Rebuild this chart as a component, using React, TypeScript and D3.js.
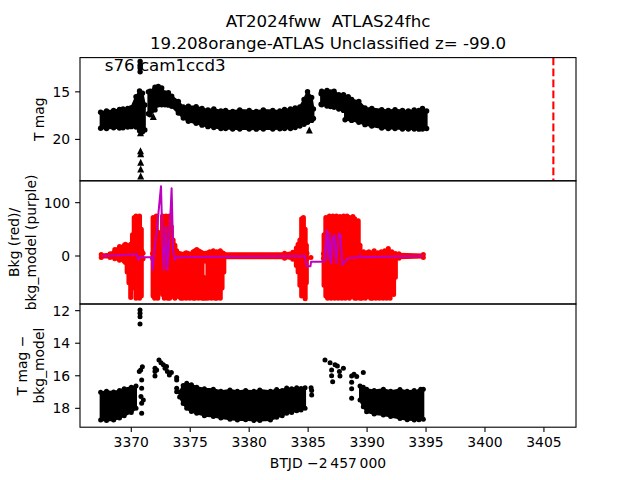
import React from "react";
import * as d3 from "d3";

// ---------- data ----------
const xTickVals = [3370, 3375, 3380, 3385, 3390, 3395, 3400, 3405];
const topTickVals = [15, 20];
const midTickVals = [0, 100];
const botTickVals = [12, 14, 16, 18];

// top panel: envelope of the dense T mag band (null = gap)
const topBandT = [3367.4, 3367.9, 3368.5, 3369.0, 3369.3, 3369.7, 3370.0, 3370.4, 3370.7, 3370.95, 3371.15, null,
  3371.45, 3371.59, 3372.01, 3372.29, 3372.58, 3372.86, 3373.15, 3373.43, 3373.99, 3374.41, 3374.84, 3375.5, 3376.0, 3376.5, 3377.0, 3377.6, 3378.0, 3378.6, 3379.2, 3380.0, 3380.6, 3381.2, 3382.0, 3382.6, 3383.0, 3383.5, 3383.9, 3384.3, 3384.65, 3384.95, 3385.3, 3385.45, null,
  3386.1, 3386.15, 3386.6, 3386.9, 3387.2, 3387.6, 3388.0, 3388.4, null,
  3388.13, 3388.69, 3389.3, 3389.82, 3390.4, 3391.24, 3391.8, 3392.37, 3393.0, 3393.5, 3394.0, 3394.4, 3394.7, 3395.05];
const topBandHi = [17.15, 17.0, 16.95, 16.85, 16.8, 16.75, 16.67, 15.51, 14.91, 15.15, 16.38, null,
  15.0, 14.94, 14.52, 14.42, 14.6, 15.12, 15.1, 15.47, 16.0, 16.6, 16.52, 16.56, 16.75, 16.9, 16.8, 17.0, 16.95, 17.05, 16.9, 16.95, 17.05, 16.9, 16.95, 17.0, 16.85, 16.8, 16.7, 16.6, 15.8, 14.98, 15.6, 16.8, null,
  15.2, 14.94, 14.85, 15.0, 14.94, 15.3, 15.3, 15.5, null,
  16.0, 15.8, 16.0, 16.7, 16.75, 16.87, 16.95, 16.87, 16.95, 17.0, 16.9, 16.95, 16.75, 17.0];
const topBandLo = [18.83, 18.85, 18.77, 18.8, 18.77, 18.7, 18.66, 18.7, 19.1, 19.2, 19.0, null,
  17.3, 17.4, 16.9, 16.35, 16.35, 16.35, 16.4, 16.52, 17.22, 17.75, 18.1, 18.3, 18.5, 18.66, 18.75, 18.85, 18.85, 18.9, 18.9, 18.9, 18.92, 18.9, 18.9, 18.88, 18.85, 18.85, 18.75, 18.6, 18.4, 18.2, 18.0, 17.8, null,
  16.3, 16.35, 16.5, 16.55, 16.62, 16.8, 16.95, 17.04, null,
  17.93, 18.0, 18.2, 18.45, 18.6, 18.8, 18.85, 18.85, 18.9, 18.9, 18.9, 18.92, 18.9, 18.85];
// top panel: upper limits (triangles)
const topLimT = [3370.78, 3370.78, 3370.8, 3370.8, 3370.8, 3370.8, 3371.87, 3385.1];
const topLimM = [19.3, 21.2, 21.5, 22.4, 23.1, 23.85, 17.6, 19.0];
// top panel: isolated bright points
const topPtT = [3370.75, 3370.75, 3370.75, 3370.75];
const topPtM = [11.8, 12.2, 12.5, 12.9];
const discoveryT = 3405.8;

// middle panel: quiet background level (red band near zero)
const bkgBandT = [3367.45, 3368.2, 3368.6, 3369.0, 3369.4, 3370.0, 3370.9, 3371.0, null,
  3371.8, 3374.0, 3377.8, 3383.0, 3383.7, 3384.2, 3384.9, null,
  3386.3, 3392.4, 3392.7, 3394.77];
const bkgBandHi = [3, 4, 12, 18, 20, 20, 10, 5, null,
  4, 4, 5, 5, 7, 15, 5, null,
  4, 4, 4, 3];
const bkgBandLo = [-3, -3, -5, -8, -10, -10, -6, -5, null,
  -4, -4, -4, -4, -6, -15, -5, null,
  -4, -4, -4, -3];
// middle panel: scatter columns of the background flux
const bkgColT = [3369.5, 3369.65, 3369.8, 3369.95, 3370.1, 3370.25, 3370.4, 3370.55, 3370.7, 3370.85,
  3371.85, 3371.98, 3372.12, 3372.25, 3372.5, 3372.65, 3372.8, 3372.95, 3373.1, 3373.25, 3373.4, 3373.55, 3373.7, 3373.85, 3374.0,
  3374.2, 3374.35, 3374.5, 3374.65, 3374.8, 3374.95, 3375.1, 3375.25, 3375.4, 3375.55, 3375.7, 3375.85, 3376.0, 3376.15, 3376.3, 3376.3, 3376.5, 3376.65, 3376.8, 3376.95, 3377.1, 3377.25, 3377.4, 3377.55, 3377.7, 3377.85,
  3384.0, 3384.15, 3384.3, 3384.45, 3384.6, 3384.75, 3384.85,
  3386.35, 3386.5, 3386.65, 3386.8, 3386.95, 3387.1, 3387.25, 3387.4, 3387.55, 3387.7, 3387.85, 3388.0, 3388.15, 3388.3, 3388.5, 3388.65, 3388.8, 3388.95, 3389.1, 3389.25, 3389.4,
  3389.55, 3389.7, 3389.85, 3390.0, 3390.15, 3390.3, 3390.45, 3390.6, 3390.75, 3390.9, 3391.05, 3391.2, 3391.35, 3391.5, 3391.65, 3391.8, 3391.95, 3392.1, 3392.25, 3392.4];
const bkgColHi = [22, 20, 18, 22, 40, 72, 75, 68, 75, 50,
  72, 60, 75, 45, 30, 75, 60, 75, 40, 75, 55, 30, 20, 10, 5,
  4, 2, 4, 6, 5, 3, 4, 8, 10, 12, 10, 8, 6, -40, 5, -50, 6, 8, 4, 10, 6, 8, 4, 10, 6, 4,
  15, 22, 30, 70, 72, 50, 20,
  40, 72, 60, 75, 50, 75, 65, 75, 40, 74, 60, 75, 55, 75, 72, 50, 74, 70, 40, 66, 20,
  6, 8, 4, 6, 8, 4, 6, 10, 4, 6, 4, 8, 6, 10, 4, 14, 6, 8, 4, 4];
const bkgColLo = [-12, -30, -50, -78, -60, -40, -79, -72, -79, -75,
  -75, -79, -55, -79, -60, -72, -79, -50, -79, -79, -76, -72, -79, -65, -76,
  -79, -79, -60, -79, -76, -79, -50, -79, -79, -76, -79, -70, -79, -79, -10, -79, -79, -76, -79, -60, -79, -79, -74, -79, -60, -30,
  -18, -30, -55, -75, -60, -80, -50,
  -55, -75, -79, -72, -79, -60, -79, -76, -79, -72, -79, -50, -79, -76, -79, -76, -60, -79, -79, -75, -79,
  -79, -60, -79, -76, -50, -79, -79, -72, -79, -40, -79, -76, -79, -60, -79, -76, -79, -50, -72, -40];
const bkgPtT = [3385.24];
const bkgPtV = [-3];
// middle panel: background model (purple)
const modelT = [3367.49, 3368.5, 3369.5, 3370.46, 3370.6, 3370.7, 3371.73, 3371.81, 3371.95, 3372.15, 3372.52, 3372.65, 3372.77, 3372.94, 3373.06, 3373.2, 3373.42, 3373.55, 3373.71, 3373.85, 3378.0, 3384.73, 3384.87, 3385.2, 3385.25, 3386.37, 3386.57, 3386.7, 3386.83, 3386.95, 3387.1, 3387.24, 3387.38, 3387.6, 3387.75, 3387.9, 3388.1, 3388.4, 3389.2, 3389.4, 3389.5, 3394.77];
const modelV = [0, 1, 2, 3.5, -7.5, -2.5, -2.5, -26, 10, 45, 131, 20, -26, 55, -26, 20, 127, 10, -7.5, -2.5, -1.5, 0, -19, -19, -10.6, -10.6, 48.8, -7.5, 42.5, -13.8, 33, 39.4, -13.8, 42.5, 39.4, -16.9, -10.6, -4.4, -2.5, 1, -2.5, 0];

// bottom panel: T mag - bkg_model
const diffBandT = [3367.4, 3367.9, 3368.5, 3369.0, 3369.4, 3370.0, 3370.4, null,
  3374.1, 3374.4, 3374.7, 3375.1, 3375.55, 3376.2, 3376.96, 3377.6, 3378.37, 3379.0, 3379.7, 3380.4, 3380.9, 3381.8, 3382.33, 3382.8, 3383.18, 3383.6, 3384.03, 3384.4, 3384.74, null,
  3389.4, 3389.68, 3389.96, 3390.6, 3391.38, 3392.0, 3392.79, 3393.4, 3394.0, 3394.4, 3394.77];
const diffBandHi = [17.02, 16.95, 17.0, 16.9, 16.8, 16.7, 16.63, null,
  17.0, 16.6, 16.46, 16.55, 16.7, 16.8, 16.83, 16.95, 16.87, 16.95, 16.9, 16.95, 16.87, 16.95, 16.85, 16.9, 16.75, 16.8, 16.73, 16.78, 16.73, null,
  16.63, 16.7, 16.83, 16.9, 16.83, 16.95, 16.85, 16.95, 16.9, 16.95, 16.83];
const diffBandLo = [18.72, 18.75, 18.72, 18.6, 18.45, 18.25, 18.0, null,
  17.3, 17.7, 18.0, 18.2, 18.31, 18.45, 18.51, 18.6, 18.67, 18.72, 18.7, 18.75, 18.75, 18.72, 18.55, 18.45, 18.31, 18.25, 18.15, 18.1, 18.0, null,
  17.49, 17.9, 18.21, 18.35, 18.41, 18.5, 18.62, 18.7, 18.72, 18.7, 18.67];
const diffPtT = [3370.74, 3370.74, 3370.74, 3370.74,
  3370.94, 3370.80, 3370.68, 3370.88, 3370.88, 3370.82, 3371.02, 3370.88, 3370.88,
  3372.01, 3372.01, 3372.01, 3372.15, 3372.35, 3372.52, 3372.72, 3372.86, 3373.06, 3373.23, 3372.99, 3373.4,
  3373.85, 3373.85, 3373.85, 3373.85,
  3385.25, 3385.3, 3385.3,
  3386.43, 3386.86, 3386.99, 3386.99, 3387.08, 3387.28, 3387.48, 3387.65, 3387.7, 3387.99,
  3388.69, 3388.69, 3388.69, 3388.69, 3388.89, 3389.12, 3389.68, 3394.55];
const diffPtM = [11.96, 12.16, 12.37, 12.82,
  15.44, 15.64, 15.74, 16.26, 16.77, 17.28, 17.49, 17.69, 18.31,
  15.54, 15.74, 16.01, 15.64, 15.03, 15.2, 15.33, 15.54, 15.74, 15.95, 15.43, 15.8,
  16.1, 16.26, 16.77, 16.98,
  16.73, 16.9, 17.18,
  15.03, 15.2, 15.64, 16.0, 16.36, 15.33, 15.4, 15.74, 16.01, 15.54,
  16.01, 16.4, 16.8, 17.38, 15.9, 16.05, 15.8, 16.83];

const titleLines = ["AT2024fww  ATLAS24fhc", "19.208orange-ATLAS Unclassified z= -99.0"];
const sectorLabel = "s76 cam1ccd3";
const sectorLabelT = 3367.75;

// ---------- layout ----------
const FONT = "DejaVu Sans";
const L = 80, R = 576, TOP = 57.6, PH = 123.2;
const panelTop = [TOP, TOP + PH, TOP + 2 * PH];

const x = d3.scaleLinear().domain([3365.65, 3407.72]).range([L, R]);
const yTop = d3.scaleLinear().domain([11.4, 24.35]).range([panelTop[0], panelTop[0] + PH]);
const yMid = d3.scaleLinear().domain([141, -90]).range([panelTop[1], panelTop[1] + PH]);
const yBot = d3.scaleLinear().domain([11.59, 19.16]).range([panelTop[2], panelTop[2] + PH]);

function Band({ t, hi, lo, y, color, r, sw }: any) {
  const idx = d3.range(t.length);
  const area = d3.area<number>()
    .defined((i) => t[i] != null && hi[i] != null)
    .x((i) => x(t[i]))
    .y0((i) => y(lo[i]))
    .y1((i) => y(hi[i]));
  const def = idx.filter((i) => t[i] != null);
  return (
    <g>
      <path d={area(idx) || ""} fill={color} stroke={color} strokeWidth={sw} strokeLinejoin="round" />
      {def.map((i) => (
        <g key={i}>
          <circle cx={x(t[i])} cy={y(hi[i])} r={r} fill={color} />
          <circle cx={x(t[i])} cy={y(lo[i])} r={r} fill={color} />
        </g>
      ))}
    </g>
  );
}

function YAxis({ y, ticks, top }: any) {
  return (
    <g>
      {ticks.map((v: number) => (
        <g key={v}>
          <line x1={L - 4.9} x2={L} y1={y(v)} y2={y(v)} stroke="#000" strokeWidth={1.1} />
          <text x={L - 9.8} y={y(v)} dy="0.36em" textAnchor="end" fontSize={13.9} fontFamily={FONT}>{v}</text>
        </g>
      ))}
      <rect x={L} y={top} width={R - L} height={PH} fill="none" stroke="#000" strokeWidth={1.1} />
    </g>
  );
}

export default function App() {
  const tri = (cx: number, cy: number, s: number) =>
    `M${cx},${cy - s / 2}L${cx + s / 2},${cy + s / 2}L${cx - s / 2},${cy + s / 2}Z`;
  const modelLine = d3.line<number>().x((i) => x(modelT[i])).y((i) => yMid(modelV[i]));
  const clip = (k: number) => `url(#clip${k})`;
  return (
    <svg width={640} height={480} style={{ display: "block", position: "absolute", left: 0, top: 0 }} fontFamily={FONT}>
      <rect width={640} height={480} fill="#fff" />
      <defs>
        {panelTop.map((pt, k) => (
          <clipPath id={`clip${k}`} key={k}>
            <rect x={L} y={pt} width={R - L} height={PH} />
          </clipPath>
        ))}
      </defs>
      {/* title */}
      <text x={(L + R) / 2} y={27} textAnchor="middle" fontSize={16.67} style={{ whiteSpace: "pre" }}>{titleLines[0]}</text>
      <text x={(L + R) / 2} y={48.5} textAnchor="middle" fontSize={16.67}>{titleLines[1]}</text>

      {/* top panel */}
      <g clipPath={clip(0)}>
        <Band t={topBandT} hi={topBandHi} lo={topBandLo} y={yTop} color="#000" r={2.7} sw={2} />
        {topPtT.map((t, i) => <circle key={i} cx={x(t)} cy={yTop(topPtM[i])} r={2.7} fill="#000" />)}
        {topLimT.map((t, i) => <path key={i} d={tri(x(t), yTop(topLimM[i]), 7)} fill="#000" />)}
        <line x1={x(discoveryT)} x2={x(discoveryT)} y1={panelTop[0]} y2={panelTop[0] + PH} stroke="#ff0000" strokeWidth={2.1} strokeDasharray="7.7 3.3" />
      </g>
      <text x={x(sectorLabelT)} y={70.5} fontSize={16.67}>{sectorLabel}</text>
      <YAxis y={yTop} ticks={topTickVals} top={panelTop[0]} />

      {/* middle panel */}
      <g clipPath={clip(1)}>
        <Band t={bkgBandT} hi={bkgBandHi} lo={bkgBandLo} y={yMid} color="#ff0000" r={2.5} sw={2} />
        {bkgColT.map((t, i) => (
          <line key={i} x1={x(t)} x2={x(t)} y1={yMid(bkgColHi[i])} y2={yMid(bkgColLo[i])} stroke="#ff0000" strokeWidth={5} strokeLinecap="round" />
        ))}
        {bkgPtT.map((t, i) => <circle key={i} cx={x(t)} cy={yMid(bkgPtV[i])} r={2.5} fill="#ff0000" />)}
        <path d={modelLine(d3.range(modelT.length)) || ""} fill="none" stroke="#bf00bf" strokeWidth={2} strokeLinejoin="round" />
      </g>
      <YAxis y={yMid} ticks={midTickVals} top={panelTop[1]} />

      {/* bottom panel */}
      <g clipPath={clip(2)}>
        <Band t={diffBandT} hi={diffBandHi} lo={diffBandLo} y={yBot} color="#000" r={2.5} sw={2} />
        {diffPtT.map((t, i) => <circle key={i} cx={x(t)} cy={yBot(diffPtM[i])} r={2.5} fill="#000" />)}
      </g>
      <YAxis y={yBot} ticks={botTickVals} top={panelTop[2]} />

      {/* x axis */}
      {xTickVals.map((v) => (
        <g key={v}>
          <line x1={x(v)} x2={x(v)} y1={panelTop[2] + PH} y2={panelTop[2] + PH + 4.9} stroke="#000" strokeWidth={1.1} />
          <text x={x(v)} y={447} textAnchor="middle" fontSize={13.9}>{v}</text>
        </g>
      ))}
      <text x={(L + R) / 2} y={468} textAnchor="middle" fontSize={13.9}>{"BTJD \u22122\u2009457\u2009000"}</text>

      {/* y labels */}
      <text transform={`translate(43.7,${panelTop[0] + PH / 2}) rotate(-90)`} textAnchor="middle" fontSize={13.9}>T mag</text>
      <text transform={`translate(19,${panelTop[1] + PH / 2}) rotate(-90)`} textAnchor="middle" fontSize={13.9}>Bkg (red)/</text>
      <text transform={`translate(35.5,${panelTop[1] + PH / 2}) rotate(-90)`} textAnchor="middle" fontSize={13.9}>bkg_model (purple)</text>
      <text transform={`translate(27,${panelTop[2] + PH / 2}) rotate(-90)`} textAnchor="middle" fontSize={13.9}>{"T mag \u2212"}</text>
      <text transform={`translate(43.7,${panelTop[2] + PH / 2}) rotate(-90)`} textAnchor="middle" fontSize={13.9}>bkg_model</text>
    </svg>
  );
}
